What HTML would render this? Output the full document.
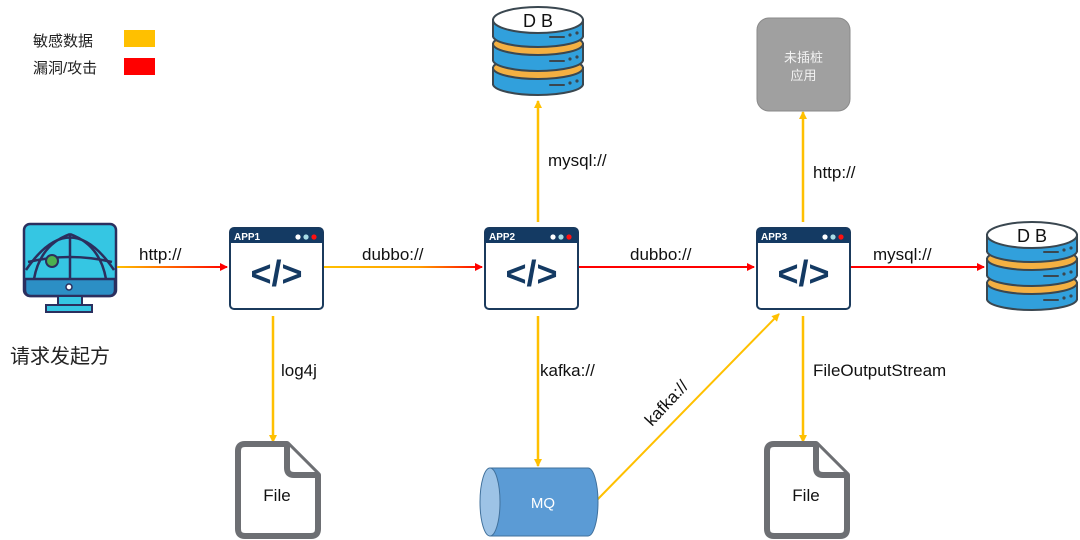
<!DOCTYPE html>
<html><head><meta charset="utf-8"><style>
html,body{margin:0;padding:0;background:#fff;}
svg{display:block;}
text{font-family:"Liberation Sans","Noto Sans CJK SC",sans-serif;}
</style></head><body>
<svg width="1080" height="540" viewBox="0 0 1080 540" xmlns="http://www.w3.org/2000/svg">
<defs>
<linearGradient id="ga" gradientUnits="userSpaceOnUse" x1="117" y1="0" x2="227" y2="0"><stop offset="0" stop-color="#ffc000"/><stop offset="1" stop-color="#ff0000"/></linearGradient>
<linearGradient id="gb" gradientUnits="userSpaceOnUse" x1="323" y1="0" x2="482" y2="0"><stop offset="0" stop-color="#ffc000"/><stop offset="0.6" stop-color="#ffa000"/><stop offset="1" stop-color="#ff0000"/></linearGradient>
<marker id="ar" markerWidth="8" markerHeight="8" refX="7" refY="4" orient="auto" markerUnits="userSpaceOnUse"><path d="M0,0 L8,4 L0,8 z" fill="#ff0000"/></marker>
<marker id="ao" markerWidth="8" markerHeight="8" refX="7" refY="4" orient="auto" markerUnits="userSpaceOnUse"><path d="M0,0 L8,4 L0,8 z" fill="#ffc000"/></marker>
<g id="db">
  <rect x="1" y="62" width="90" height="16" fill="#31a0dc" stroke="#3a4750" stroke-width="2"/>
  <ellipse cx="46" cy="78" rx="45" ry="11" fill="#31a0dc" stroke="#3a4750" stroke-width="2"/>
  <rect x="2" y="62" width="88" height="16" fill="#31a0dc"/>
  <ellipse cx="46" cy="62" rx="45" ry="11" fill="#f4b042" stroke="#3a4750" stroke-width="2"/>
  <rect x="1" y="38" width="90" height="16" fill="#31a0dc" stroke="#3a4750" stroke-width="2"/>
  <ellipse cx="46" cy="54" rx="45" ry="11" fill="#31a0dc" stroke="#3a4750" stroke-width="2"/>
  <rect x="2" y="38" width="88" height="16" fill="#31a0dc"/>
  <ellipse cx="46" cy="38" rx="45" ry="11" fill="#f4b042" stroke="#3a4750" stroke-width="2"/>
  <rect x="1" y="14" width="90" height="16" fill="#31a0dc" stroke="#3a4750" stroke-width="2"/>
  <ellipse cx="46" cy="30" rx="45" ry="11" fill="#31a0dc" stroke="#3a4750" stroke-width="2"/>
  <rect x="2" y="14" width="88" height="16" fill="#31a0dc"/>
  <ellipse cx="46" cy="14" rx="45" ry="13" fill="#fff" stroke="#3a4750" stroke-width="2"/>
  <g stroke="#3a4750" stroke-width="2" stroke-linecap="round">
   <line x1="58" y1="31" x2="72" y2="31"/><line x1="58" y1="55" x2="72" y2="55"/><line x1="58" y1="79" x2="72" y2="79"/>
  </g>
  <g fill="#3a4750"><circle cx="78" cy="29" r="1.6"/><circle cx="85" cy="27" r="1.6"/><circle cx="78" cy="53" r="1.6"/><circle cx="85" cy="51" r="1.6"/><circle cx="78" cy="77" r="1.6"/><circle cx="85" cy="75" r="1.6"/></g>
  <text x="46" y="21" font-size="18" text-anchor="middle" fill="#111">D B</text>
</g>
<g id="file">
  <path d="M8,0 L50,0 L81,31 L81,85 Q81,92 74,92 L8,92 Q1,92 1,85 L1,7 Q1,0 8,0 Z" fill="#fff" stroke="#6d6f73" stroke-width="6" stroke-linejoin="round"/>
  <path d="M50,0 L50,24 Q50,31 57,31 L81,31" fill="#fff" stroke="#6d6f73" stroke-width="6" stroke-linejoin="round"/>
  <text x="40" y="57" font-size="17" text-anchor="middle" fill="#111">File</text>
</g>
</defs>

<text x="33" y="46" font-size="15" fill="#222">敏感数据</text>
<rect x="124" y="30" width="31" height="17" fill="#ffc000"/>
<text x="33" y="73" font-size="15" fill="#222">漏洞/攻击</text>
<rect x="124" y="58" width="31" height="17" fill="#ff0000"/>

<rect x="24" y="224" width="92" height="72" rx="6" fill="#35c6e3" stroke="#2b2f5e" stroke-width="2.5"/>
<path d="M25,279 L115,279 L115,290 Q115,296 109,296 L31,296 Q25,296 25,290 Z" fill="#2c8fc5" stroke="#2b2f5e" stroke-width="2.5"/>
<g fill="none" stroke="#2b2f5e" stroke-width="2.5">
<path d="M26,270 Q70,205 114,270"/>
<path d="M70,234 L70,279"/>
<path d="M70,234 Q40,245 34,279"/>
<path d="M70,234 Q100,245 106,279"/>
<path d="M28,262 Q70,252 112,262"/>
</g>
<circle cx="52" cy="261" r="6" fill="#4cb050" stroke="#2b2f5e" stroke-width="2"/>
<circle cx="69" cy="287" r="3" fill="#fff" stroke="#2b2f5e" stroke-width="1.5"/>
<rect x="58" y="296" width="24" height="9" fill="#35c6e3" stroke="#2b2f5e" stroke-width="2"/>
<rect x="46" y="305" width="46" height="7" fill="#35c6e3" stroke="#2b2f5e" stroke-width="2"/>
<text x="10" y="363" font-size="20" fill="#222">请求发起方</text>

<line x1="117" y1="267" x2="227" y2="267" stroke="url(#ga)" stroke-width="2" marker-end="url(#ar)"/>
<text x="139" y="260" font-size="17" fill="#111">http://</text>
<line x1="323" y1="267" x2="482" y2="267" stroke="url(#gb)" stroke-width="2" marker-end="url(#ar)"/>
<text x="362" y="260" font-size="17" fill="#111">dubbo://</text>
<line x1="578" y1="267" x2="754" y2="267" stroke="#ff0000" stroke-width="2" marker-end="url(#ar)"/>
<text x="630" y="260" font-size="17" fill="#111">dubbo://</text>
<line x1="850" y1="267" x2="984" y2="267" stroke="#ff0000" stroke-width="2" marker-end="url(#ar)"/>
<text x="873" y="260" font-size="17" fill="#111">mysql://</text>

<line x1="538" y1="222" x2="538" y2="101" stroke="#ffc000" stroke-width="2.5" marker-end="url(#ao)"/>
<text x="548" y="166" font-size="17" fill="#111">mysql://</text>
<line x1="803" y1="222" x2="803" y2="112" stroke="#ffc000" stroke-width="2.5" marker-end="url(#ao)"/>
<text x="813" y="178" font-size="17" fill="#111">http://</text>
<line x1="273" y1="316" x2="273" y2="442" stroke="#ffc000" stroke-width="2.5" marker-end="url(#ao)"/>
<text x="281" y="376" font-size="17" fill="#111">log4j</text>
<line x1="538" y1="316" x2="538" y2="466" stroke="#ffc000" stroke-width="2.5" marker-end="url(#ao)"/>
<text x="540" y="376" font-size="17" fill="#111">kafka://</text>
<line x1="803" y1="316" x2="803" y2="442" stroke="#ffc000" stroke-width="2.5" marker-end="url(#ao)"/>
<text x="813" y="376" font-size="17" fill="#111">FileOutputStream</text>
<line x1="597" y1="500" x2="779" y2="314" stroke="#ffc000" stroke-width="2" marker-end="url(#ao)"/>
<text x="0" y="0" font-size="17" fill="#111" transform="translate(652,427) rotate(-47)">kafka://</text>

<rect x="230" y="228" width="93" height="81" rx="4" fill="#fff" stroke="#1b3a5c" stroke-width="2"/>
<path d="M230,243 L230,232 Q230,228 234,228 L319,228 Q323,228 323,232 L323,243 Z" fill="#143a63"/>
<text x="234" y="240" font-size="10" font-weight="bold" fill="#fff">APP1</text>
<circle cx="298" cy="237" r="2.6" fill="#fff"/><circle cx="306" cy="237" r="2.6" fill="#a8dce6"/><circle cx="314" cy="237" r="2.6" fill="#ff1010"/>
<text x="276.5" y="286" font-size="36" font-weight="bold" fill="#143a63" text-anchor="middle">&lt;/&gt;</text>
<rect x="485" y="228" width="93" height="81" rx="4" fill="#fff" stroke="#1b3a5c" stroke-width="2"/>
<path d="M485,243 L485,232 Q485,228 489,228 L574,228 Q578,228 578,232 L578,243 Z" fill="#143a63"/>
<text x="489" y="240" font-size="10" font-weight="bold" fill="#fff">APP2</text>
<circle cx="553" cy="237" r="2.6" fill="#fff"/><circle cx="561" cy="237" r="2.6" fill="#a8dce6"/><circle cx="569" cy="237" r="2.6" fill="#ff1010"/>
<text x="531.5" y="286" font-size="36" font-weight="bold" fill="#143a63" text-anchor="middle">&lt;/&gt;</text>
<rect x="757" y="228" width="93" height="81" rx="4" fill="#fff" stroke="#1b3a5c" stroke-width="2"/>
<path d="M757,243 L757,232 Q757,228 761,228 L846,228 Q850,228 850,232 L850,243 Z" fill="#143a63"/>
<text x="761" y="240" font-size="10" font-weight="bold" fill="#fff">APP3</text>
<circle cx="825" cy="237" r="2.6" fill="#fff"/><circle cx="833" cy="237" r="2.6" fill="#a8dce6"/><circle cx="841" cy="237" r="2.6" fill="#ff1010"/>
<text x="803.5" y="286" font-size="36" font-weight="bold" fill="#143a63" text-anchor="middle">&lt;/&gt;</text>

<use href="#db" x="492" y="6"/>
<use href="#db" x="986" y="221"/>

<rect x="757" y="18" width="93" height="93" rx="12" fill="#a0a0a0" stroke="#8a8a8a" stroke-width="1"/>
<text x="803.5" y="62" font-size="13" fill="#f2f2f2" text-anchor="middle">未插桩</text>
<text x="803.5" y="80" font-size="13" fill="#f2f2f2" text-anchor="middle">应用</text>

<use href="#file" x="237" y="444"/>
<use href="#file" x="766" y="444"/>

<path d="M490,468 L588,468 A10,34 0 0 1 588,536 L490,536 Z" fill="#5b9bd5" stroke="#41719c" stroke-width="1"/>
<ellipse cx="490" cy="502" rx="10" ry="34" fill="#9dc3e6" stroke="#41719c" stroke-width="1"/>
<text x="543" y="508" font-size="15" fill="#fff" text-anchor="middle">MQ</text>
</svg>
</body></html>
